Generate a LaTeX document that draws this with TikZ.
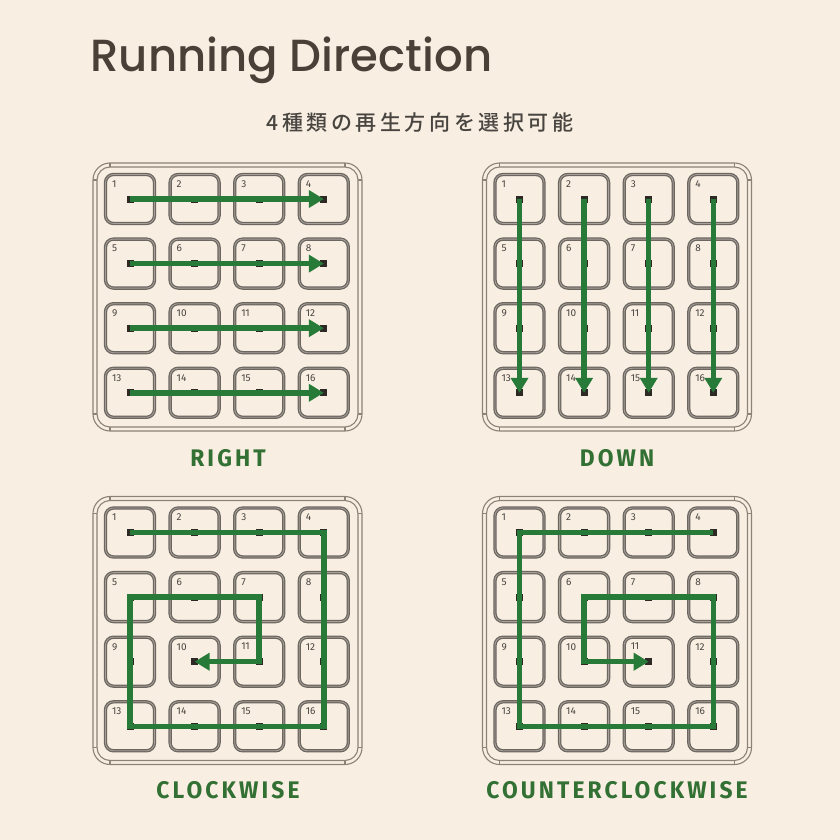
\documentclass[tikz,border=0pt]{standalone}
\usepackage{fontspec}
\setmainfont{Fira Sans}
\newfontfamily\titlefont{Poppins Medium}
\newfontfamily\jpfont{Noto Sans CJK JP Medium}[LetterSpace=17]
\newfontfamily\labelfont{Fira Sans}[FakeStretch=0.95,LetterSpace=13]
\usetikzlibrary{arrows.meta,calc}

\definecolor{bgcream}{RGB}{248,238,225}
\definecolor{inkbrown}{RGB}{74,64,56}
\definecolor{subgray}{RGB}{72,68,64}
\definecolor{keygray}{RGB}{108,102,96}
\definecolor{keylight}{RGB}{168,161,153}
\definecolor{casegray}{RGB}{140,130,118}
\definecolor{ledblack}{RGB}{45,42,38}
\definecolor{rungreen}{RGB}{40,122,56}
\definecolor{labelgreen}{RGB}{50,112,52}

\begin{document}
\begin{tikzpicture}[x=1pt,y=-1pt,line join=round,
  caseline/.style={draw=casegray,line width=1.1pt},
  keycap/.style={draw=keygray,line width=1.25pt,double=keylight,double distance=0.8pt,rounded corners=8pt,minimum size=49pt,inner sep=0pt},
  keynum/.style={font=\fontsize{10}{10}\selectfont,text=subgray,inner sep=0pt},
  led/.style={fill=ledblack,minimum size=7pt,inner sep=0pt},
  runpath/.style={draw=rungreen,line width=5.5pt,line cap=butt,line join=miter,-{Triangle[length=15pt,width=17pt]}},
  runlabel/.style={font=\labelfont\bfseries\fontsize{24}{24}\selectfont,text=labelgreen}]
\fill[bgcream] (0,0) rectangle (840,840);
\useasboundingbox (0,0) rectangle (840,840);

\node[anchor=base west,font=\titlefont\fontsize{45}{45}\selectfont,text=inkbrown] (title) at (87,72) {Running Direction};
\node[font=\jpfont\fontsize{21}{21}\selectfont,text=subgray] (subtitle) at (420,123) {4種類の再生方向を選択可能};

\foreach \p/\px/\py in {1/0/0,2/389.5/0,3/0/333.5,4/389.5/333.5}{
  \draw[caseline,rounded corners=17pt] (\px+93,\py+163) rectangle (\px+362,\py+431);
  \draw[caseline,rounded corners=13pt] (\px+97,\py+167) rectangle (\px+358,\py+427);
  \foreach \t in {110,345}{
    \draw[caseline] (\px+\t,\py+163) -- (\px+\t,\py+167);
    \draw[caseline] (\px+\t,\py+427) -- (\px+\t,\py+431);
  }
  \foreach \t in {180,414}{
    \draw[caseline] (\px+93,\py+\t) -- (\px+97,\py+\t);
    \draw[caseline] (\px+358,\py+\t) -- (\px+362,\py+\t);
  }
  \foreach \n in {1,...,16}{
    \pgfmathtruncatemacro\col{mod(\n-1,4)}
    \pgfmathtruncatemacro\row{div(\n-1,4)}
    \node[keycap] (k\p-\n) at (\px+130+64.6*\col,\py+199+64.6*\row) {};
    \node[keynum,anchor=north west] (n\p-\n) at ($(k\p-\n.north west)+(7,6.5)$) {\n};
    \node[led] (m\p-\n) at (k\p-\n.center) {};
  }
}

\foreach \a/\b in {1/4,5/8,9/12,13/16}
  \draw[runpath] (k1-\a.center) -- (k1-\b.center);
\foreach \a/\b in {1/13,2/14,3/15,4/16}
  \draw[runpath] (k2-\a.center) -- (k2-\b.center);
\draw[runpath] (k3-1.center) -- (k3-4.center) -- (k3-16.center) -- (k3-13.center) -- (k3-5.center) -- (k3-7.center) -- (k3-11.center) -- (k3-10.center);
\draw[runpath] (k4-4.center) -- (k4-1.center) -- (k4-13.center) -- (k4-16.center) -- (k4-8.center) -- (k4-6.center) -- (k4-10.center) -- (k4-11.center);

\node[runlabel] (lblright) at (228,458) {RIGHT};
\node[runlabel] (lbldown) at (617,458) {DOWN};
\node[runlabel] (lblcw) at (228,790) {CLOCKWISE};
\node[runlabel] (lblccw) at (617,790) {COUNTERCLOCKWISE};
\end{tikzpicture}
\end{document}
